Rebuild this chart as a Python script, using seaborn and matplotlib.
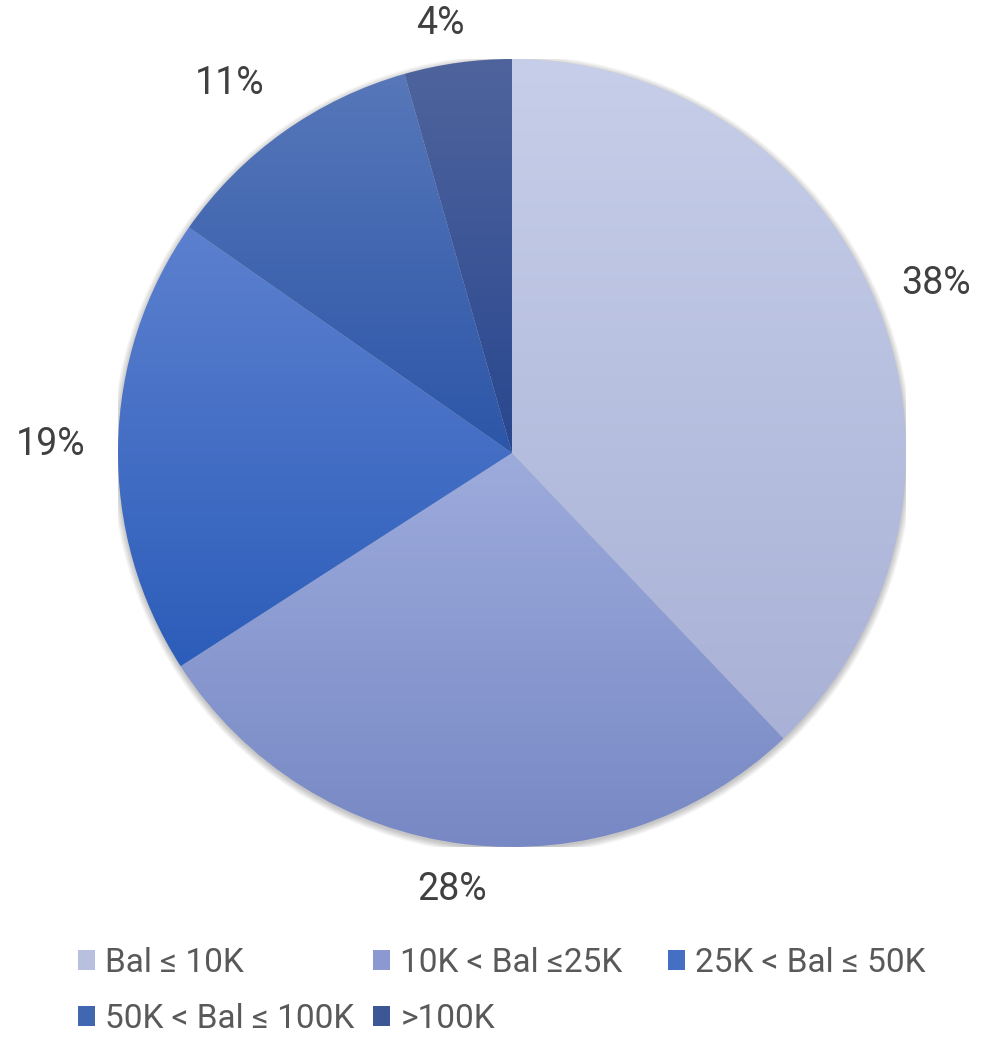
import numpy as np
import matplotlib
matplotlib.use("Agg")
import matplotlib.pyplot as plt
import seaborn as sns
from matplotlib.colors import LinearSegmentedColormap, to_rgb
from matplotlib.patches import Circle, Patch

sns.set_theme(style="white")
plt.rcParams['font.family'] = ['Roboto', 'DejaVu Sans']

categories = ["Bal \u2264 10K", "10K < Bal \u226425K", "25K < Bal \u2264 50K",
              "50K < Bal \u2264 100K", ">100K"]
shares = [37.9, 28.0, 18.8, 10.9, 4.4]
top_colors = ["#c6cee9", "#9dabdc", "#5c80cf", "#5777b9", "#4f649d"]
bottom_colors = ["#a9b2d6", "#7788c4", "#2c5dba", "#2c56a8", "#29478f"]
label_dist = [1.16, 1.117, 1.17, 1.15, 1.10]

W, H, DPI = 988, 1037, 100
fig = plt.figure(figsize=(W / DPI, H / DPI), dpi=DPI)
cx, cy, r = 512, 453, 394
ax = fig.add_axes([(cx - r) / W, (H - cy - r) / H, 2 * r / W, 2 * r / H])
ax.set_aspect('equal')
ax.axis('off')

# soft shadow
for i in range(10):
    ax.add_patch(Circle((0, -0.005), 1.0 + 0.0018 * i, color='black',
                        alpha=0.022, lw=0, zorder=0))

wedges, texts, autotexts = ax.pie(
    shares, startangle=90, counterclock=False, radius=1.0,
    colors=top_colors, autopct=lambda p: f"{p:.0f}%", pctdistance=1.14,
    wedgeprops=dict(linewidth=0), textprops=dict(fontsize=27, color="#404040"))

label_shift = [0.0, -0.02, 0.0, -0.05, -0.03]
for w, at, d, s in zip(wedges, autotexts, label_dist, label_shift):
    ang = np.deg2rad((w.theta1 + w.theta2) / 2)
    at.set_position((d * np.cos(ang) + s, d * np.sin(ang)))
    at.set_clip_on(False)

for w, ct, cb in zip(wedges, top_colors, bottom_colors):
    w.set_facecolor('none')
    bb = w.get_path().get_extents(w.get_patch_transform())
    cmap = LinearSegmentedColormap.from_list('g', [ct, cb])
    grad = np.linspace(0, 1, 256).reshape(-1, 1)
    im = ax.imshow(grad, cmap=cmap, aspect='auto',
                   extent=[bb.x0, bb.x1, bb.y0, bb.y1], origin='upper', zorder=1)
    im.set_clip_path(w)

ax.set_xlim(-1, 1)
ax.set_ylim(-1, 1)

# legend: three fixed-width columns, row-major order
mid_colors = [tuple((np.array(to_rgb(a)) + np.array(to_rgb(b))) / 2)
              for a, b in zip(top_colors, bottom_colors)]
columns = [[0, 3], [1, 4], [2]]
col_x = [78, 373, 668]
for cols, x in zip(columns, col_x):
    hs = [Patch(facecolor=mid_colors[i], edgecolor='none') for i in cols]
    ls = [categories[i] for i in cols]
    leg = fig.legend(hs, ls, loc='upper left',
                     bbox_to_anchor=(x / W, 1 - 947 / H), frameon=False,
                     fontsize=24, handlelength=0.52, handleheight=0.52,
                     handletextpad=0.3, labelspacing=0.72, borderpad=0,
                     borderaxespad=0)
    for t in leg.get_texts():
        t.set_color("#595959")

fig.savefig("out.png", dpi=DPI)
